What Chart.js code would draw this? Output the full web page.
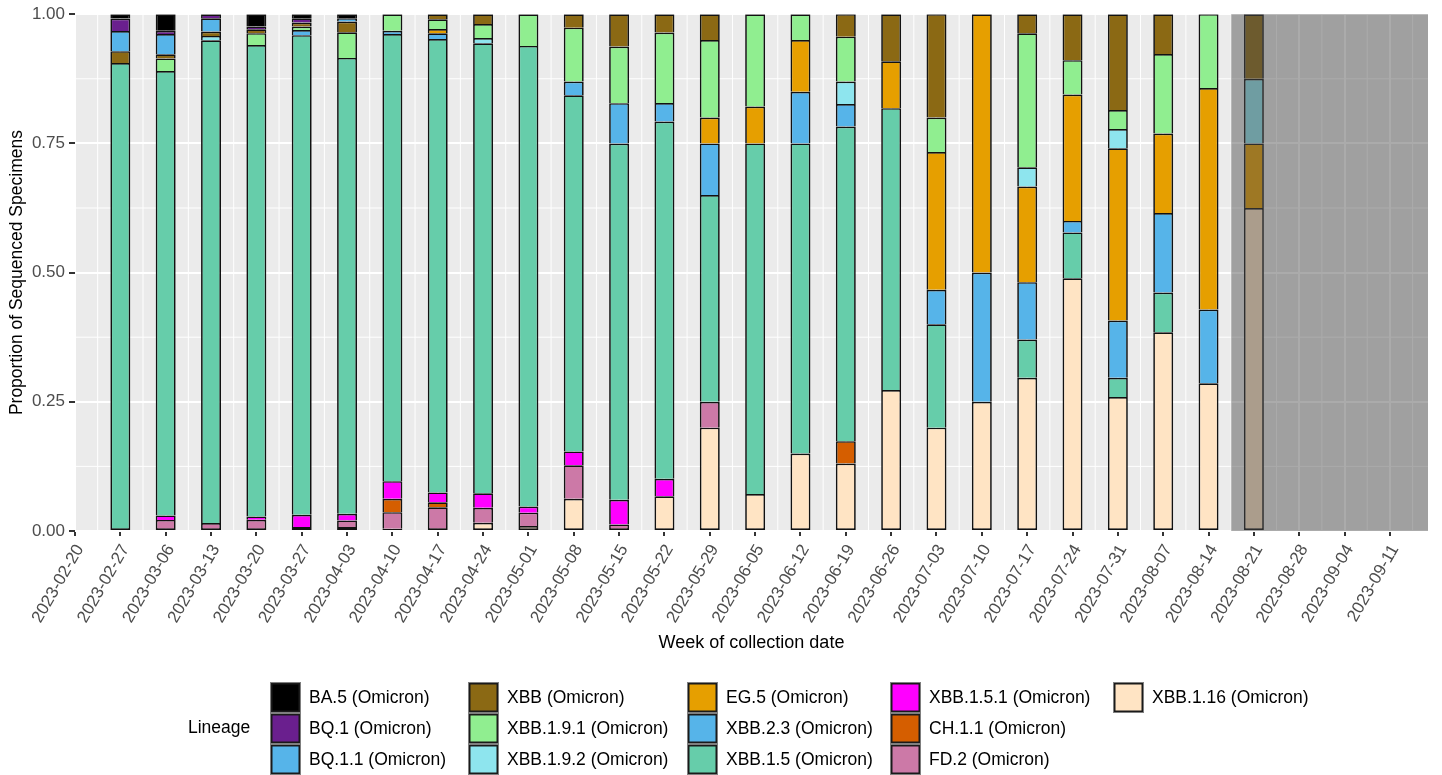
<!DOCTYPE html>
<html>
<head>
<meta charset="utf-8">
<script src="https://cdn.jsdelivr.net/npm/chart.js@4.4.0/dist/chart.umd.min.js"></script>
<style>
  html, body { margin: 0; padding: 0; background: #ffffff; }
  #wrap { width: 1442px; height: 775px; position: relative; }
</style>
</head>
<body>
<div id="wrap"><canvas id="chart" width="1442" height="775"></canvas></div>
<script>
// Week of collection (x categories)
const weeks = [
  '2023-02-20','2023-02-27','2023-03-06','2023-03-13','2023-03-20','2023-03-27',
  '2023-04-03','2023-04-10','2023-04-17','2023-04-24','2023-05-01','2023-05-08',
  '2023-05-15','2023-05-22','2023-05-29','2023-06-05','2023-06-12','2023-06-19',
  '2023-06-26','2023-07-03','2023-07-10','2023-07-17','2023-07-24','2023-07-31',
  '2023-08-07','2023-08-14','2023-08-21','2023-08-28','2023-09-04','2023-09-11'
];

// Proportion of sequenced specimens per lineage, one value per week (null = none)
const ba5     = [null,.0085,.032,null,.024,.0077,.0077,null,null,null,null,null,null,null,null,null,null,null,null,null,null,null,null,null,null,null,null,null,null,null];
const bq1     = [null,.024,.0065,.0077,.005,.0084,null,null,null,null,null,null,null,null,null,null,null,null,null,null,null,null,null,null,null,null,null,null,null,null];
const bq11    = [null,.039,.039,.026,null,null,.0064,null,null,null,null,null,null,null,null,null,null,null,null,null,null,null,null,null,null,null,null,null,null,null];
const xbb     = [null,.023,.008,.0083,.0077,.0077,.021,null,.0097,.019,null,.026,.0626,.0355,.05,null,null,.0435,.0909,.2,null,.037,.0889,.1852,.0769,null,.125,null,null,null];
const xbb191  = [null,null,.0245,null,.023,.007,.0495,.032,.019,.027,.0613,.1044,.1095,.1365,.15,.1786,.05,.087,null,.0667,null,.2593,.0667,.037,.1538,.1429,null,null,null,null];
const xbb192  = [null,null,null,.0083,null,null,null,null,null,.0103,null,null,null,null,null,null,null,.0435,null,null,null,.037,null,.037,null,null,.125,null,null,null];
const eg5     = [null,null,null,null,null,null,null,null,.0084,null,null,null,null,null,.05,.0714,.10,null,.0909,.2667,.5,.1852,.2444,.3333,.1538,.4286,.125,null,null,null];
const xbb23   = [null,null,null,null,null,.0097,null,.0064,.011,null,null,.0264,.078,.0355,.10,null,.10,.0435,null,.0667,.25,.1111,.0222,.1111,.1538,.1429,null,null,null,null];
const xbb15   = [null,.9055,.8598,.9344,.9121,.928,.8819,.8651,.8772,.8707,.8912,.6892,.6894,.6915,.40,.6786,.60,.6087,.5455,.2,null,.0741,.0889,.037,.0769,null,null,null,null,null];
const xbb151  = [null,null,.0087,null,.0064,.024,.013,.034,.019,.028,.012,.027,.0477,.034,null,null,null,null,null,null,null,null,null,null,null,null,null,null,null,null];
const ch11    = [null,null,null,null,null,null,null,.026,.0097,null,null,null,null,null,null,null,null,.0435,null,null,null,null,null,null,null,null,null,null,null,null];
const fd2     = [null,null,.0215,.0153,.0218,.0075,.013,.032,.046,.029,.026,.0645,.0128,null,.05,null,null,null,null,null,null,null,null,null,null,null,null,null,null,null];
const xbb116  = [null,null,null,null,null,null,.0075,.0045,null,.016,.0095,.0625,null,.067,.20,.0714,.15,.1304,.2727,.2,.25,.2963,.4889,.2593,.3846,.2857,.625,null,null,null];

// Lineage names and fills, in legend order (top of each bar first)
const lineageNames = [
  'BA.5 (Omicron)','BQ.1 (Omicron)','BQ.1.1 (Omicron)','XBB (Omicron)',
  'XBB.1.9.1 (Omicron)','XBB.1.9.2 (Omicron)','EG.5 (Omicron)','XBB.2.3 (Omicron)',
  'XBB.1.5 (Omicron)','XBB.1.5.1 (Omicron)','CH.1.1 (Omicron)','FD.2 (Omicron)',
  'XBB.1.16 (Omicron)'
];
const lineageValues = [ba5,bq1,bq11,xbb,xbb191,xbb192,eg5,xbb23,xbb15,xbb151,ch11,fd2,xbb116];
const lineageColors = [
  '#000000','#6A1F8E','#56B4E9','#8B6914',
  '#90EE90','#8EE5EE','#E69F00','#56B4E9',
  '#66CDAA','#FF00FF','#D55E00','#CC79A7',
  '#FFE4C4'
];

// y-axis tick labels
const yTicks = [0, 0.25, 0.5, 0.75, 1];
// first week covered by the shaded (incomplete data) region
const shadedFrom = '2023-08-21';

const FONT = "'Liberation Sans', Arial, sans-serif";

// Chart.js stacks the first dataset at the bottom, so build them bottom-up
const order = lineageNames.map((_, i) => i).reverse();
const datasets = order.map(li => ({
  label: lineageNames[li],
  data: lineageValues[li]
    .map((v, i) => (v == null ? null : { x: i, y: v }))
    .filter(p => p !== null),
  backgroundColor: lineageColors[li],
  borderColor: '#111111',
  borderWidth: 1.7
}));

// lowest dataset drawn in each week, so its bottom edge keeps an outline
const lowestAt = weeks.map((_, wi) => {
  for (let d = 0; d < order.length; d++) {
    if (lineageValues[order[d]][wi] != null) return d;
  }
  return -1;
});

const panelPlugin = {
  id: 'panel',
  beforeDraw(chart) {
    const { ctx, chartArea: a, scales: { x, y } } = chart;
    ctx.save();
    ctx.fillStyle = '#FFFFFF';
    ctx.fillRect(0, 0, chart.width, chart.height);
    ctx.fillStyle = '#EBEBEB';
    ctx.fillRect(a.left, a.top, a.right - a.left, a.bottom - a.top);
    // minor grid lines, half way between major breaks
    ctx.strokeStyle = '#FFFFFF';
    ctx.lineWidth = 1;
    for (let i = 0; i < weeks.length; i++) {
      const px = x.getPixelForValue(i + 0.5);
      if (px > a.right) break;
      ctx.beginPath(); ctx.moveTo(px, a.top); ctx.lineTo(px, a.bottom); ctx.stroke();
    }
    for (let k = 0; k < yTicks.length - 1; k++) {
      const py = y.getPixelForValue((yTicks[k] + yTicks[k + 1]) / 2);
      ctx.beginPath(); ctx.moveTo(a.left, py); ctx.lineTo(a.right, py); ctx.stroke();
    }
    ctx.restore();
  },
  afterDatasetsDraw(chart) {
    const { ctx, chartArea: a, scales: { x } } = chart;
    const start = x.getPixelForValue(weeks.indexOf(shadedFrom) - 0.5);
    ctx.save();
    ctx.fillStyle = 'rgba(77,77,77,0.47)';
    ctx.fillRect(start, a.top, a.right - start, a.bottom - a.top);
    ctx.restore();
  },
  afterDraw(chart) {
    const { ctx, chartArea: a } = chart;
    ctx.save();
    ctx.fillStyle = '#000000';
    ctx.textAlign = 'center';
    ctx.textBaseline = 'middle';
    // axis titles
    ctx.font = '18px ' + FONT;
    ctx.fillText('Week of collection date', (a.left + a.right) / 2, 643);
    ctx.save();
    ctx.font = '17.5px ' + FONT;
    ctx.translate(17, (a.top + a.bottom) / 2);
    ctx.rotate(-Math.PI / 2);
    ctx.fillText('Proportion of Sequenced Specimens', 0, 0);
    ctx.restore();

    // legend: 5 columns x 3 rows, filled column by column
    const colX = [270, 468, 687, 890, 1113];
    const rowY = [682, 713, 744];
    const key = 31;
    ctx.font = '17.5px ' + FONT;
    ctx.textAlign = 'left';
    ctx.fillText('Lineage', 188, rowY[1] + key / 2);
    lineageNames.forEach((name, i) => {
      const c = Math.floor(i / 3), r = i % 3;
      const kx = colX[c], ky = rowY[r];
      ctx.fillStyle = '#7F7F7F';
      ctx.fillRect(kx, ky, key, key);
      ctx.fillStyle = lineageColors[i];
      ctx.fillRect(kx + 1, ky + 1, key - 2, key - 2);
      ctx.strokeStyle = '#1A1A1A';
      ctx.lineWidth = 1.5;
      ctx.strokeRect(kx + 1.75, ky + 1.75, key - 3.5, key - 3.5);
      ctx.fillStyle = '#000000';
      ctx.fillText(name, kx + key + 8, ky + key / 2 + 1);
    });
    ctx.restore();
  }
};

new Chart(document.getElementById('chart'), {
  type: 'bar',
  data: { datasets },
  plugins: [panelPlugin],
  options: {
    responsive: false,
    animation: false,
    devicePixelRatio: 1,
    layout: { padding: { left: 0, top: 14, right: 14, bottom: 0 } },
    datasets: {
      bar: {
        barPercentage: 0.44,
        categoryPercentage: 1,
        borderSkipped: ctx => (lowestAt[ctx.raw ? ctx.raw.x : -1] === ctx.datasetIndex ? false : 'start')
      }
    },
    plugins: {
      legend: { display: false },
      tooltip: { enabled: false },
      title: { display: false }
    },
    scales: {
      x: {
        type: 'linear',
        stacked: true,
        offset: false,
        min: 0,
        max: 29.84,
        afterBuildTicks: s => { s.ticks = weeks.map((_, i) => ({ value: i })); },
        afterFit: s => { s.height = 244; },
        ticks: {
          autoSkip: false,
          minRotation: 60,
          maxRotation: 60,
          padding: 5,
          labelOffset: 5,
          color: '#4D4D4D',
          font: { family: FONT, size: 17 },
          callback: (v, i) => weeks[i]
        },
        grid: {
          offset: false,
          color: '#FFFFFF',
          lineWidth: 2,
          tickColor: '#333333',
          tickLength: 5,
          drawTicks: true
        },
        border: { display: false }
      },
      y: {
        stacked: true,
        min: 0,
        max: 1,
        afterBuildTicks: s => { s.ticks = yTicks.map(v => ({ value: v })); },
        afterFit: s => { s.width = 75; },
        ticks: {
          padding: 4,
          color: '#4D4D4D',
          font: { family: FONT, size: 17 },
          callback: v => Number(v).toFixed(2)
        },
        grid: {
          color: '#FFFFFF',
          lineWidth: 2,
          tickColor: '#333333',
          tickLength: 6
        },
        border: { display: false }
      }
    }
  }
});
</script>
</body>
</html>
